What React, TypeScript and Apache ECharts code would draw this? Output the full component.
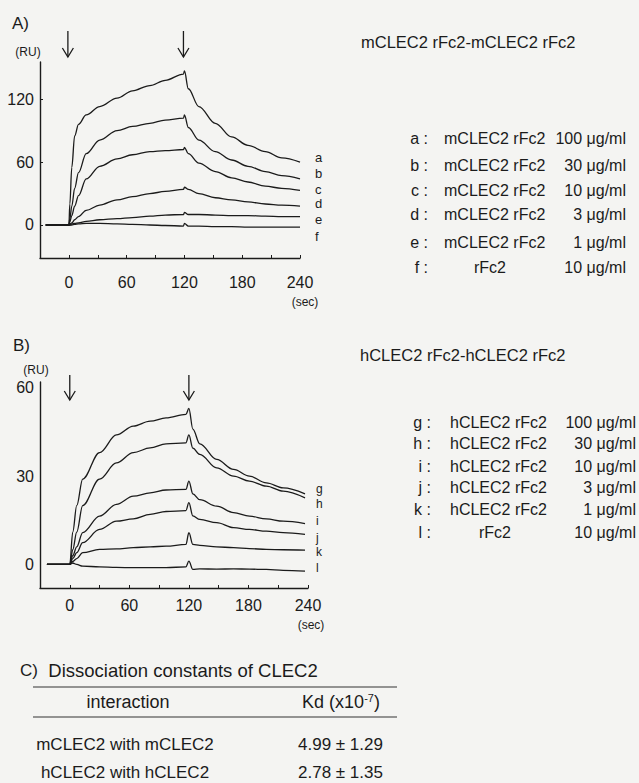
import React, { useEffect, useRef } from "react";
import * as echarts from "echarts";

// ---------- DATA ----------
const T_A = [-24, -5, 0, 1, 3, 6, 10, 18, 32, 50, 66, 84, 100, 119, 120, 124, 135, 152, 169, 186, 204, 221, 240];
const A_a = [0, 0, 0, 20, 55, 85, 96, 105, 113, 121, 128, 133, 138, 144, 147, 130, 113, 97, 84, 76, 70, 64, 60];
const A_b = [0, 0, 0, 6, 18, 35, 50, 68, 81, 90, 94, 97, 100, 102, 105, 93, 81, 70, 62, 56, 51, 47, 44];
const A_c = [0, 0, 0, 3, 9, 18, 28, 44, 56, 63, 67, 70, 71, 72, 74, 68, 59, 51, 45, 41, 37, 35, 33];
const A_d = [0, 0, 0, 1, 2, 5, 8, 14, 19, 24, 27, 30, 32, 34, 36, 34, 30, 26, 24, 22, 20, 19, 18];
const A_e = [0, 0, 0, 0, 1, 1.5, 2, 3.5, 5, 6, 7, 8.5, 9.5, 10, 12, 10, 10, 9.5, 9, 9, 8.5, 8, 8];
const A_f = [0, 0, 0, 0, 0, 0.5, 1, 1.5, 1.5, 1, 0.5, 0, -0.5, -1, 1.5, -1, -1, -1.5, -1.5, -2, -2, -2, -2];

const T_B = [-23, -5, 0, 3, 7, 13, 30, 47, 64, 81, 97, 117, 120, 124, 131, 148, 165, 181, 198, 215, 237];
const B_g = [0, 0, 0, 11, 20, 29, 38, 44, 47, 48.7, 49.8, 51, 53, 46, 41, 35.7, 32.3, 30, 27.7, 26, 24];
const B_h = [0, 0, 0, 5, 11, 20, 29, 34.5, 38, 39.6, 41, 41.3, 44, 39.5, 37.4, 32.8, 30, 28.3, 26.6, 24.9, 22.6];
const B_i = [0, 0, 0, 3, 6, 10.8, 16.4, 20.4, 23.2, 24.3, 25.3, 25.5, 28.3, 24, 22, 19.8, 17.6, 16.4, 15.5, 14.7, 13.9];
const B_j = [0, 0, 0, 2, 4, 7.4, 11.9, 14.7, 15.5, 17, 18, 18.3, 21, 16.5, 15.3, 14.2, 12.5, 11.9, 11.3, 10.8, 10.2];
const B_k = [0, 0, 0, 1, 2, 4, 5.1, 5.3, 5.7, 6, 6.2, 6.8, 10.8, 6.8, 6.5, 6, 5.7, 5.4, 5.1, 5, 4.9];
const B_l = [0, 0, 0, 0.5, 0, -0.6, -0.8, -1, -1.1, -1.1, -1.1, -0.8, 1.1, -1.7, -1.5, -1.6, -1.5, -1.6, -1.7, -2, -2.3];

const X_TICKS = [0, 30, 60, 90, 120, 150, 180, 210, 240];
const X_LABELS = [0, 60, 120, 180, 240];
const Y_LABELS_A = [0, 60, 120];
const Y_LABELS_B = [0, 30, 60];
const INJECTION_TIMES = [0, 120];

const SERIES_A = [
  { key: "a", values: A_a },
  { key: "b", values: A_b },
  { key: "c", values: A_c },
  { key: "d", values: A_d },
  { key: "e", values: A_e },
  { key: "f", values: A_f },
];
const SERIES_B = [
  { key: "g", values: B_g },
  { key: "h", values: B_h },
  { key: "i", values: B_i },
  { key: "j", values: B_j },
  { key: "k", values: B_k },
  { key: "l", values: B_l },
];

const TITLE_A = "mCLEC2 rFc2-mCLEC2 rFc2";
const TITLE_B = "hCLEC2 rFc2-hCLEC2 rFc2";
const LEGEND_A_LETTERS = ["a", "b", "c", "d", "e", "f"];
const LEGEND_A_NAMES = ["mCLEC2 rFc2", "mCLEC2 rFc2", "mCLEC2 rFc2", "mCLEC2 rFc2", "mCLEC2 rFc2", "rFc2"];
const LEGEND_B_LETTERS = ["g", "h", "i", "j", "k", "l"];
const LEGEND_B_NAMES = ["hCLEC2 rFc2", "hCLEC2 rFc2", "hCLEC2 rFc2", "hCLEC2 rFc2", "hCLEC2 rFc2", "rFc2"];
const LEGEND_CONC = ["100 μg/ml", "30 μg/ml", "10 μg/ml", "3 μg/ml", "1 μg/ml", "10 μg/ml"];

const TABLE_TITLE = "Dissociation constants of CLEC2";
const TABLE_HEAD = ["interaction", "Kd (x10-7)"];
const TABLE_ROWS = [
  ["mCLEC2 with mCLEC2", "4.99 ± 1.29"],
  ["hCLEC2 with hCLEC2", "2.78 ± 1.35"],
];

// ---------- STYLE ----------
const FONT = "'Liberation Sans', Arial, Helvetica, sans-serif";
const INK = "#1b1b1b";
const BG = "#f4f4f2";
const LEG = 16;

const LABEL_Y_A = [157, 173, 189, 203, 219, 236];
const LABEL_Y_B = [489, 504, 521, 538, 552, 568];
const ROW_Y_A = [138, 165, 190, 214, 242, 267];
const ROW_Y_B = [422, 443, 466, 487, 509, 532];

function txt(x: number, y: number, text: string, size: number, align = "left", extra: any = {}) {
  return {
    type: "text",
    x,
    y,
    silent: true,
    style: {
      text,
      fill: INK,
      font: `${size}px ${FONT}`,
      fontSize: size,
      fontFamily: FONT,
      align,
      verticalAlign: "middle",
      ...extra,
    },
  };
}

function arrow(x: number, yTop: number, yTip: number) {
  return {
    type: "group",
    silent: true,
    children: [
      { type: "line", shape: { x1: x, y1: yTop, x2: x, y2: yTip }, style: { stroke: INK, lineWidth: 1.3 } },
      {
        type: "polyline",
        shape: { points: [[x - 5.5, yTip - 9], [x, yTip], [x + 5.5, yTip - 9]] },
        style: { stroke: INK, lineWidth: 1.3, fill: null },
      },
    ],
  };
}

function xAxis(gridIndex: number, labelMargin: number) {
  return {
    type: "value",
    gridIndex,
    min: -30,
    max: 240,
    axisLine: { show: true, onZero: false, lineStyle: { color: INK, width: 1.4 } },
    axisTick: { show: true, inside: true, length: 3, customValues: X_TICKS, lineStyle: { color: INK, width: 1 } },
    axisLabel: { customValues: X_LABELS, fontSize: 16, color: INK, fontFamily: FONT, margin: labelMargin },
    splitLine: { show: false },
  };
}

function yAxis(gridIndex: number, min: number, max: number, labels: number[], ticks: boolean) {
  return {
    type: "value",
    gridIndex,
    min,
    max,
    axisLine: { show: true, onZero: false, lineStyle: { color: INK, width: 1.4 } },
    axisTick: { show: ticks, inside: true, length: 3, customValues: labels, lineStyle: { color: INK } },
    axisLabel: { customValues: labels, fontSize: 16, color: INK, fontFamily: FONT, margin: 6 },
    splitLine: { show: false },
  };
}

function lineSeries(times: number[], values: number[], idx: number, name: string) {
  return {
    type: "line",
    name,
    xAxisIndex: idx,
    yAxisIndex: idx,
    data: times.map((t, i) => [t, values[i]]),
    showSymbol: false,
    symbol: "none",
    smooth: 0.35,
    smoothMonotone: "x",
    clip: false,
    lineStyle: { color: INK, width: 1.3 },
    silent: true,
  };
}

export default function App() {
  const ref = useRef<HTMLDivElement>(null);

  useEffect(() => {
    document.body.style.margin = "0";
    if (!ref.current) return;
    const chart = echarts.init(ref.current, null, { renderer: "svg" });

    const staticGraphic: any[] = [];
    // panel letters and units
    staticGraphic.push(txt(12, 23, "A)", 17));
    staticGraphic.push(txt(28, 52, "(RU)", 12, "center"));
    staticGraphic.push(txt(305, 302, "(sec)", 12, "center"));
    staticGraphic.push(txt(13, 345, "B)", 17));
    staticGraphic.push(txt(36, 370, "(RU)", 12, "center"));
    staticGraphic.push(txt(311, 625, "(sec)", 12, "center"));
    // curve letters
    SERIES_A.forEach((s, i) => staticGraphic.push(txt(315, LABEL_Y_A[i], s.key, 13)));
    SERIES_B.forEach((s, i) => staticGraphic.push(txt(316, LABEL_Y_B[i], s.key, 12)));
    // legends
    staticGraphic.push(txt(361, 42, TITLE_A, 16.5));
    LEGEND_A_LETTERS.forEach((l, i) => {
      const y = ROW_Y_A[i];
      staticGraphic.push(txt(428, y, `${l} :`, LEG, "right"));
      if (LEGEND_A_NAMES[i] === "rFc2") staticGraphic.push(txt(490, y, LEGEND_A_NAMES[i], LEG, "center"));
      else staticGraphic.push(txt(444, y, LEGEND_A_NAMES[i], LEG));
      staticGraphic.push(txt(626, y, LEGEND_CONC[i], LEG, "right"));
    });
    staticGraphic.push(txt(360, 355, TITLE_B, 16.5));
    LEGEND_B_LETTERS.forEach((l, i) => {
      const y = ROW_Y_B[i];
      staticGraphic.push(txt(431, y, `${l} :`, LEG, "right"));
      if (LEGEND_B_NAMES[i] === "rFc2") staticGraphic.push(txt(495, y, LEGEND_B_NAMES[i], LEG, "center"));
      else staticGraphic.push(txt(450, y, LEGEND_B_NAMES[i], LEG));
      staticGraphic.push(txt(636, y, LEGEND_CONC[i], LEG, "right"));
    });
    // table C
    staticGraphic.push(txt(20, 670, "C)", 17));
    staticGraphic.push(txt(183, 670, TABLE_TITLE, 18.5, "center"));
    staticGraphic.push({ type: "line", silent: true, shape: { x1: 33, y1: 687, x2: 397, y2: 687 }, style: { stroke: "#333", lineWidth: 1 } });
    staticGraphic.push(txt(128, 702, TABLE_HEAD[0], 18, "center"));
    staticGraphic.push({
      type: "text",
      x: 341,
      y: 702,
      silent: true,
      style: {
        text: "{n|Kd (x10}{s|-7}{n|)}",
        align: "center",
        verticalAlign: "middle",
        rich: {
          n: { fontSize: 18, fontFamily: FONT, fill: INK, color: INK },
          s: { fontSize: 11, fontFamily: FONT, fill: INK, color: INK, verticalAlign: "top", padding: [0, 0, 8, 0] },
        },
      },
    });
    staticGraphic.push({ type: "line", silent: true, shape: { x1: 33, y1: 717, x2: 397, y2: 717 }, style: { stroke: "#333", lineWidth: 1 } });
    TABLE_ROWS.forEach((r, i) => {
      const y = i === 0 ? 744 : 772;
      staticGraphic.push(txt(125, y, r[0], 17, "center"));
      staticGraphic.push(txt(298, y, r[1], 17));
    });

    const option: any = {
      animation: false,
      backgroundColor: BG,
      textStyle: { fontFamily: FONT },
      grid: [
        { left: 40, top: 62, width: 260, height: 196 },
        { left: 40, top: 382, width: 268, height: 206 },
      ],
      xAxis: [xAxis(0, 16), xAxis(1, 9)],
      yAxis: [yAxis(0, -31.5, 155.5, Y_LABELS_A, true), yAxis(1, -8, 62, Y_LABELS_B, false)],
      series: [
        ...SERIES_A.map((s) => lineSeries(T_A, s.values, 0, s.key)),
        ...SERIES_B.map((s) => lineSeries(T_B, s.values, 1, s.key)),
      ],
      graphic: staticGraphic,
    };
    chart.setOption(option);

    const arrows: any[] = [];
    INJECTION_TIMES.forEach((t) => {
      const xa = chart.convertToPixel({ xAxisIndex: 0 }, t) as number;
      arrows.push(arrow(xa - 1, 31, 57));
      const xb = chart.convertToPixel({ xAxisIndex: 1 }, t) as number;
      arrows.push(arrow(xb, 375, 400));
    });
    chart.setOption({ graphic: [...staticGraphic, ...arrows] });

    return () => chart.dispose();
  }, []);

  return <div ref={ref} style={{ width: 639, height: 783 }} />;
}
